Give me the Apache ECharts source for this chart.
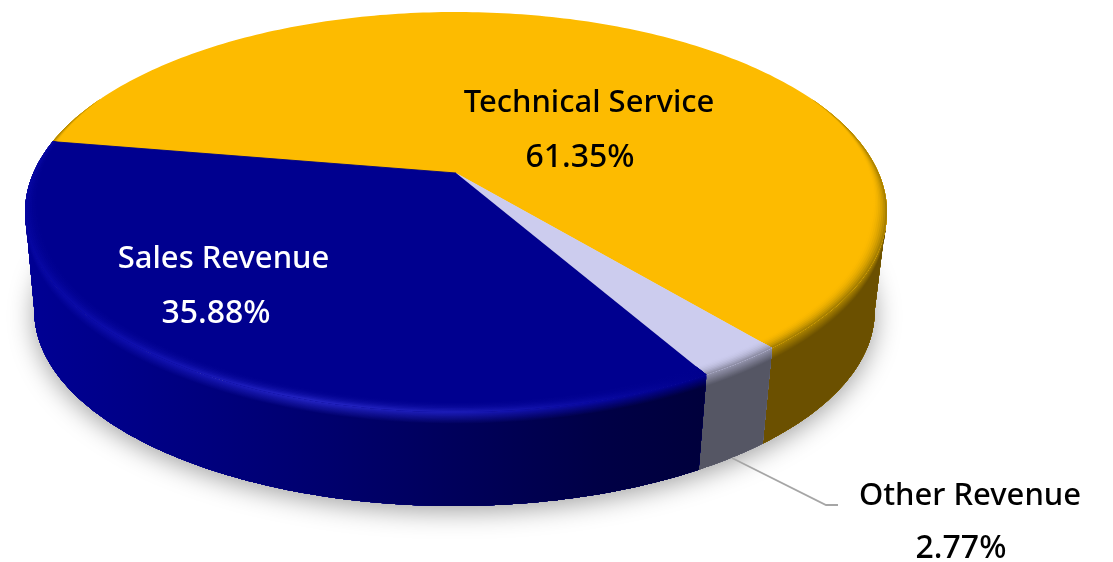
<!DOCTYPE html>
<html>
<head>
<meta charset="utf-8">
<script src="https://cdn.jsdelivr.net/npm/echarts@6/dist/echarts.min.js"></script>
<style>html,body{margin:0;padding:0;background:#fff}#c{width:1113px;height:562px}</style>
</head>
<body>
<div id="c"></div>
<script>
// ---- data ----
const categories = ['Technical Service', 'Other Revenue', 'Sales Revenue'];
const shares = [61.35, 2.77, 35.88];

// ---- look ----
const topColors = ['#FDBB00', '#CCCCEE', '#00008F'];
const sideStops = [
  [[0, '#6B5000'], [1, '#6B5000']],
  [[0, '#555664'], [1, '#555664']],
  [[0, '#000094'], [0.12, '#000088'], [0.33, '#000070'], [0.67, '#000046'], [0.79, '#00003C'], [1, '#00003C']]
];
const edgeStops = [
  [[0, '#A88000'], [1, '#A88000']],
  [[0, '#9090A8'], [1, '#9090A8']],
  [[0, '#0505A0'], [0.12, '#0E0EAC'], [0.33, '#2222C0'], [0.5, '#1A1AB4'], [0.67, '#0808A0'], [0.79, '#00008C'], [1, '#00008C']]
];
const labelLayout = [
  { x: 589, y1: 103.5, y2: 157.5, fill: '#000' },
  { x: 970, y1: 496.5, y2: 548.5, fill: '#000', pctX: 961 },
  { x: 223.5, y1: 259.5, y2: 313.5, fill: '#fff', pctX: 216 }
];
const nameFont = '500 31px "Noto Sans", sans-serif';
const pctFont = '500 32px "Noto Sans", sans-serif';

// ---- projection of the disc ----
const START_DEG = -170.3, K = 0.195, A = 422.7, B = 192.4;
const CX_TOP = 456, CX_BOT = 454.5, CY_TOP = 173, CY_BOT = 273, SCALE_BOT = 0.975;
const VIS0 = 11.2, VIS1 = 168.8, X0 = 24, X1 = 885;
const rad = d => d * Math.PI / 180;
function pt(deg, r, d) {
  const u = r * Math.cos(rad(deg)), v = r * Math.sin(rad(deg));
  const w = 1 - K * v, s = 1 + (SCALE_BOT - 1) * d;
  const cy = CY_TOP + (CY_BOT - CY_TOP) * d, cx = CX_TOP + (CX_BOT - CX_TOP) * d;
  return [cx + A * s * u / w, cy + B * s * v / w];
}
function arc(t0, t1, r, d) {
  const out = [], n = Math.max(2, Math.ceil(Math.abs(t1 - t0)));
  for (let i = 0; i <= n; i++) {
    const t = t0 + (t1 - t0) * i / n;
    out.push(pt(t, typeof r === 'function' ? r(t) : r, d));
  }
  return out;
}
function sliceRange(i) {
  let sum = 0;
  for (let j = 0; j < i; j++) sum += shares[j];
  return [START_DEG + sum * 3.6, START_DEG + (sum + shares[i]) * 3.6];
}
const hex = c => [1, 3, 5].map(p => parseInt(c.substr(p, 2), 16));
const mix = (a, b, f) => {
  const x = hex(a), y = hex(b);
  return 'rgb(' + x.map((v, i) => Math.round(v + (y[i] - v) * f)).join(',') + ')';
};
const toHex = s => {
  if (s[0] === '#') return s;
  return '#' + s.match(/\d+/g).map(v => (+v).toString(16).padStart(2, '0')).join('');
};
function stopAt(stops, f) {
  for (let i = 1; i < stops.length; i++) {
    if (f <= stops[i][0]) {
      return toHex(mix(stops[i - 1][1], stops[i][1], (f - stops[i - 1][0]) / (stops[i][0] - stops[i - 1][0] || 1)));
    }
  }
  return stops[stops.length - 1][1];
}
const XS = [0, 0.12, 0.33, 0.5, 0.67, 0.79, 1];
function grad(fn) {
  return new echarts.graphic.LinearGradient(X0, 0, X1, 0, XS.map(x => ({ offset: x, color: fn(x) })), true);
}

// ---- renderers ----
function renderRim(params) {
  const i = params.dataIndex, children = [];
  if (i === 0) {
    children.push({
      type: 'polygon',
      shape: { points: arc(0, 360, 1, 1) },
      style: { fill: '#dddddd', shadowColor: 'rgba(0,0,0,0.38)', shadowBlur: 26, shadowOffsetY: 5 }
    });
  }
  const [a, b] = sliceRange(i);
  const lo = Math.max(a, VIS0), hi = Math.min(b, VIS1);
  if (hi > lo) {
    const bottom = arc(hi, lo, 1, 1);
    const N = 14, DMAX = 0.12;
    for (let s = 0; s <= N; s++) {
      const d = DMAX * s / N;
      const f = s / N;
      children.push({
        type: 'polygon',
        shape: { points: arc(lo, hi, 1, d).concat(bottom) },
        style: { fill: grad(x => mix(stopAt(edgeStops[i], x), stopAt(sideStops[i], x), f)) }
      });
    }
  }
  return { type: 'group', children };
}
function taper(t) {
  // fades the inner bevel out toward the back of the disc
  let n = ((t % 360) + 360) % 360;
  if (n > 270) n -= 360;
  const right = Math.min(1, Math.max(0, (n + 25) / 40));
  const left = Math.min(1, Math.max(0, (205 - n) / 40));
  return Math.min(right, left);
}
function renderTop(params) {
  const i = params.dataIndex, children = [];
  const [a, b] = sliceRange(i);
  children.push({
    type: 'polygon',
    shape: { points: [[CX_TOP, CY_TOP]].concat(arc(a, b, 1, 0)) },
    style: { fill: topColors[i] }
  });
  const N = 8, RIN = 0.965;
  for (let s = 1; s <= N; s++) {
    const f = s / N, r0 = RIN + (1 - RIN) * (s - 1) / N;
    children.push({
      type: 'polygon',
      shape: { points: arc(a, b, t => 1 - (1 - r0) * taper(t), 0).concat(arc(b, a, 1, 0)) },
      style: { fill: grad(x => mix(topColors[i], stopAt(edgeStops[i], x), f * f)) }
    });
  }
  if (i === 0) {
    children.push({
      type: 'polyline',
      shape: { points: [[CX_TOP, CY_TOP], pt(a, 1, 0)] },
      style: { stroke: '#2A1F50', lineWidth: 1, fill: null }
    });
  }
  return { type: 'group', children };
}
function renderLabel(params, api) {
  const i = params.dataIndex, L = labelLayout[i];
  const name = categories[i], pct = api.value(0).toFixed(2) + '%';
  const children = [
    { type: 'text', x: L.x, y: L.y1, style: { text: name, fill: L.fill, font: nameFont, align: 'center', verticalAlign: 'middle' } },
    { type: 'text', x: L.pctX || L.x - 9, y: L.y2, style: { text: pct, fill: L.fill, font: pctFont, align: 'center', verticalAlign: 'middle' } }
  ];
  if (i === 1) {
    children.push({
      type: 'polyline',
      shape: { points: [[732, 458], [826, 505], [838, 505]] },
      style: { stroke: '#A6A6A6', lineWidth: 1.8, fill: null }
    });
  }
  return { type: 'group', children };
}

const chart = echarts.init(document.getElementById('c'), null, { renderer: 'canvas' });
const rows = shares.map((v, i) => ({ name: categories[i], value: [v] }));
chart.setOption({
  animation: false,
  series: [
    { type: 'custom', coordinateSystem: 'none', z: 1, silent: true, data: rows, renderItem: renderRim, encode: { value: 0 } },
    { type: 'custom', coordinateSystem: 'none', z: 2, silent: true, data: rows, renderItem: renderTop, encode: { value: 0 } },
    { type: 'custom', coordinateSystem: 'none', z: 3, silent: true, data: rows, renderItem: renderLabel, encode: { value: 0 } }
  ]
});
</script>
</body>
</html>
